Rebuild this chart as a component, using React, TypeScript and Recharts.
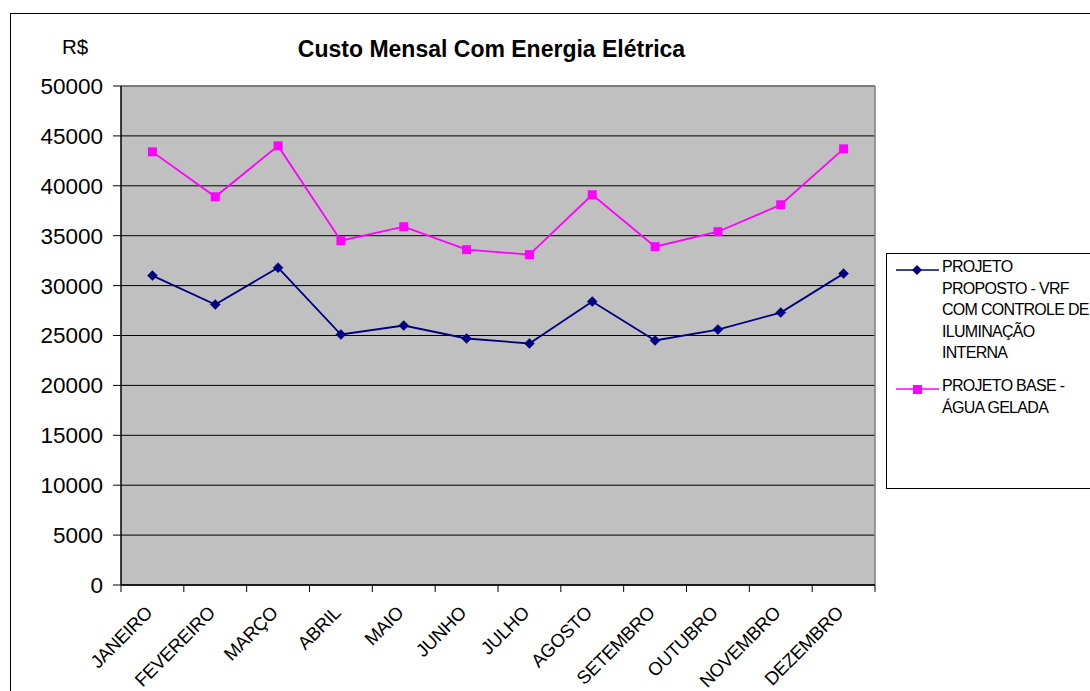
import React from 'react';
import { LineChart, Line, XAxis, YAxis, CartesianGrid, Legend, Customized } from 'recharts';

// Monthly electricity cost (R$) for the two HVAC design options
const MONTHS = [
  'JANEIRO', 'FEVEREIRO', 'MARÇO', 'ABRIL', 'MAIO', 'JUNHO',
  'JULHO', 'AGOSTO', 'SETEMBRO', 'OUTUBRO', 'NOVEMBRO', 'DEZEMBRO',
];
const PROPOSTO = [31000, 28100, 31800, 25100, 26000, 24700, 24200, 28400, 24500, 25600, 27300, 31200];
const BASE = [43400, 38900, 44000, 34500, 35900, 33600, 33100, 39100, 33900, 35400, 38100, 43700];
const Y_TICKS = [0, 5000, 10000, 15000, 20000, 25000, 30000, 35000, 40000, 45000, 50000];

const PROPOSTO_LINES = ['PROJETO', 'PROPOSTO - VRF', 'COM CONTROLE DE', 'ILUMINAÇÃO', 'INTERNA'];
const BASE_LINES = ['PROJETO BASE -', 'ÁGUA GELADA'];

const data = MONTHS.map((m, i) => ({ month: m, proposto: PROPOSTO[i], base: BASE[i] }));

const FONT = '"Liberation Sans", Arial, sans-serif';
const NAVY = '#000080';
const MAGENTA = '#FF00FF';

// plot area geometry
const W = 1090;
const H = 691;
const PLOT_LEFT = 121;
const PLOT_RIGHT = 875;
const PLOT_TOP = 86;
const PLOT_BOTTOM = 585;
const STEP = (PLOT_RIGHT - PLOT_LEFT) / MONTHS.length;

const Diamond = (props: any) => {
  const { cx, cy } = props;
  if (cx == null || cy == null) return null;
  const r = 5;
  return (
    <polygon
      points={`${cx},${cy - r} ${cx + r},${cy} ${cx},${cy + r} ${cx - r},${cy}`}
      fill={NAVY}
      stroke={NAVY}
      strokeWidth={0.5}
    />
  );
};

const Square = (props: any) => {
  const { cx, cy } = props;
  if (cx == null || cy == null) return null;
  const s = 9;
  return <rect x={cx - s / 2} y={cy - s / 2} width={s} height={s} fill={MAGENTA} />;
};

const MonthTick = (props: any) => {
  const { x, y, payload, index } = props;
  const half = STEP / 2;
  const tx = x + 1;
  const ty = y + 29;
  return (
    <g>
      <line x1={x - half} x2={x - half} y1={y} y2={y + 7} stroke="#000" strokeWidth={1} />
      {index === MONTHS.length - 1 && (
        <line x1={x + half} x2={x + half} y1={y} y2={y + 7} stroke="#000" strokeWidth={1} />
      )}
      <text
        x={tx}
        y={ty}
        textAnchor="end"
        transform={`rotate(-45, ${tx}, ${ty})`}
        fontSize={18.5}
        letterSpacing={-0.3}
        fontFamily={FONT}
        fill="#000"
      >
        {payload.value}
      </text>
    </g>
  );
};

const PlotBorder = () => (
  <g>
    <line x1={PLOT_LEFT} x2={PLOT_RIGHT} y1={PLOT_TOP} y2={PLOT_TOP} stroke="#808080" strokeWidth={1.5} />
    <line x1={PLOT_RIGHT} x2={PLOT_RIGHT} y1={PLOT_TOP} y2={PLOT_BOTTOM} stroke="#808080" strokeWidth={1.5} />
  </g>
);

const LegendMarkerLine = ({ color, marker }: { color: string; marker: 'diamond' | 'square' }) => (
  <svg width={44} height={12} style={{ position: 'absolute', left: 9, top: 8 }}>
    <line x1={0} x2={43} y1={6} y2={6} stroke={color} strokeWidth={1.5} />
    {marker === 'diamond' ? (
      <polygon points="21,1 26,6 21,11 16,6" fill={color} />
    ) : (
      <rect x={17} y={2} width={9} height={9} fill={color} />
    )}
  </svg>
);

const LegendBox = () => {
  const lineStyle: React.CSSProperties = {
    fontFamily: FONT,
    fontSize: 16,
    letterSpacing: -0.7,
    lineHeight: '21.6px',
    whiteSpace: 'nowrap',
    color: '#000',
  };
  return (
    <div
      style={{
        width: 300,
        height: 236,
        border: '1px solid #000',
        background: '#fff',
        position: 'relative',
        boxSizing: 'border-box',
      }}
    >
      <div style={{ position: 'absolute', left: 0, top: 2 }}>
        <LegendMarkerLine color={NAVY} marker="diamond" />
        <div style={{ position: 'absolute', left: 55, top: 0 }}>
          {PROPOSTO_LINES.map((t) => (
            <div key={t} style={lineStyle}>{t}</div>
          ))}
        </div>
      </div>
      <div style={{ position: 'absolute', left: 0, top: 121 }}>
        <LegendMarkerLine color={MAGENTA} marker="square" />
        <div style={{ position: 'absolute', left: 55, top: 0 }}>
          {BASE_LINES.map((t) => (
            <div key={t} style={lineStyle}>{t}</div>
          ))}
        </div>
      </div>
    </div>
  );
};

export default function App() {
  return (
    <div
      style={{
        position: 'fixed',
        left: 0,
        top: 0,
        width: W,
        height: H,
        overflow: 'hidden',
        background: '#fff',
      }}
    >
      {/* outer chart frame */}
      <div
        style={{
          position: 'absolute',
          left: 10,
          top: 13,
          width: W + 20,
          height: H + 20,
          border: '1px solid #000',
        }}
      />
      <div
        style={{
          position: 'absolute',
          left: 62,
          top: 35,
          fontFamily: FONT,
          fontSize: 20.5,
          color: '#000',
          whiteSpace: 'nowrap',
        }}
      >
        R$
      </div>
      <div
        style={{
          position: 'absolute',
          left: 0,
          width: 983,
          top: 36,
          textAlign: 'center',
          fontFamily: FONT,
          fontSize: 23,
          fontWeight: 'bold',
          color: '#000',
          whiteSpace: 'nowrap',
        }}
      >
        Custo Mensal Com Energia Elétrica
      </div>
      <div style={{ position: 'absolute', left: 0, top: 0 }}>
        <LineChart
          width={W}
          height={H}
          data={data}
          margin={{ top: PLOT_TOP, right: W - PLOT_RIGHT, bottom: 0, left: 0 }}
        >
          <CartesianGrid
            horizontal
            vertical={false}
            stroke="#000"
            strokeWidth={1}
            fill="#C0C0C0"
            fillOpacity={1}
          />
          <Customized component={PlotBorder} />
          <XAxis
            dataKey="month"
            height={H - PLOT_BOTTOM}
            interval={0}
            padding={{ left: STEP / 2, right: STEP / 2 }}
            tickLine={false}
            tickSize={0}
            tickMargin={0}
            axisLine={{ stroke: '#000', strokeWidth: 1.5 }}
            tick={<MonthTick />}
          />
          <YAxis
            width={PLOT_LEFT}
            domain={[0, 50000]}
            ticks={Y_TICKS}
            interval={0}
            tickSize={8}
            tickMargin={10}
            axisLine={{ stroke: '#000', strokeWidth: 1.5 }}
            tickLine={{ stroke: '#000' }}
            tick={{ fontSize: 22.5, fontFamily: FONT, fill: '#000' }}
          />
          <Legend
            layout="vertical"
            align="center"
            verticalAlign="middle"
            wrapperStyle={{ position: 'absolute', left: 886, top: 253, width: 300, height: 236 }}
            content={() => <LegendBox />}
          />
          <Line
            type="linear"
            dataKey="proposto"
            name="PROJETO PROPOSTO - VRF COM CONTROLE DE ILUMINAÇÃO INTERNA"
            stroke={NAVY}
            strokeWidth={1.8}
            dot={<Diamond />}
            activeDot={false}
            isAnimationActive={false}
          />
          <Line
            type="linear"
            dataKey="base"
            name="PROJETO BASE - ÁGUA GELADA"
            stroke={MAGENTA}
            strokeWidth={1.8}
            dot={<Square />}
            activeDot={false}
            isAnimationActive={false}
          />
        </LineChart>
      </div>
    </div>
  );
}
